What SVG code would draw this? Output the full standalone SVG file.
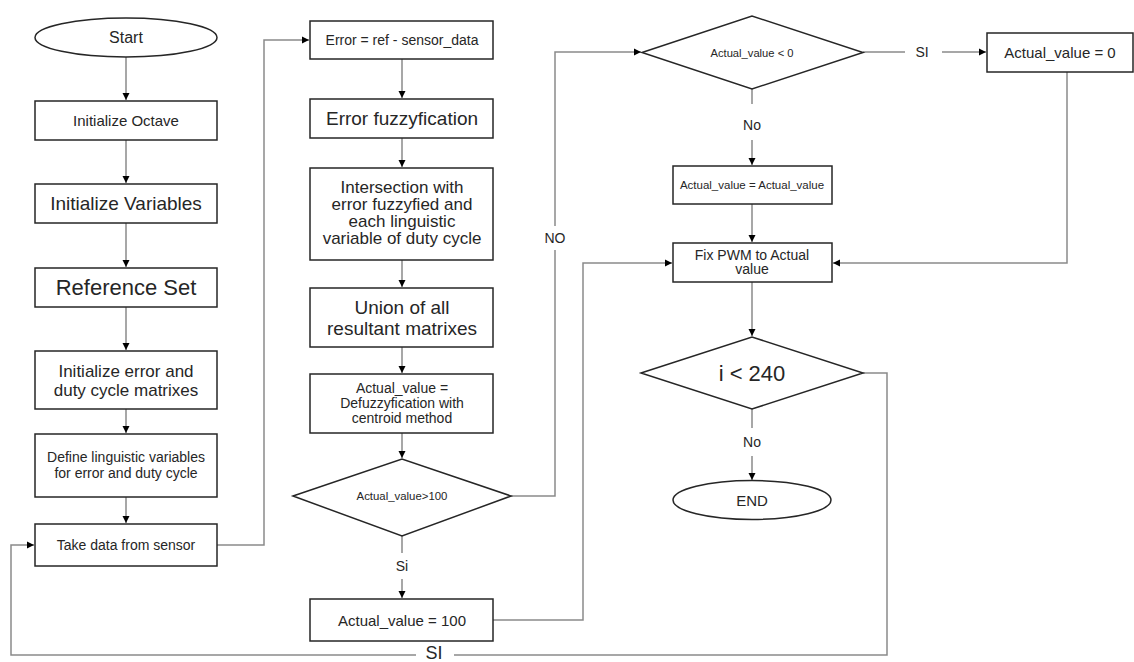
<svg xmlns="http://www.w3.org/2000/svg" width="1134" height="662" viewBox="0 0 1134 662">
<defs>
<marker id="ar" markerWidth="8" markerHeight="8" refX="7" refY="4" orient="auto" markerUnits="userSpaceOnUse">
<path d="M0,0.5 L7,4 L0,7.5 Z" fill="#000"/>
</marker>
<style>
.n{fill:#fff;stroke:#262626;stroke-width:1.5}
.c{fill:none;stroke:#8a8a8a;stroke-width:1.5}
.a{marker-end:url(#ar)}
text{font-family:"Liberation Sans",Arial,sans-serif;fill:#262626;text-anchor:middle}
</style>
</defs>
<rect width="1134" height="662" fill="#fff"/>
<g id="connectors">
<path class="c a" d="M126,57 V100"/>
<path class="c a" d="M126,140 V183"/>
<path class="c a" d="M126,223 V267"/>
<path class="c a" d="M126,307 V350"/>
<path class="c a" d="M126,409 V433"/>
<path class="c a" d="M126,497 V523"/>
<path class="c a" d="M217,545 H264 V40 H309"/>
<path class="c a" d="M402,59 V98"/>
<path class="c a" d="M402,138 V167"/>
<path class="c a" d="M402,260 V287"/>
<path class="c a" d="M402,347 V373"/>
<path class="c a" d="M402,433 V458"/>
<path class="c" d="M402,536 V553"/>
<path class="c a" d="M402,579 V598"/>
<path class="c a" d="M493,620 H583 V263 H672"/>
<path class="c" d="M511,496 H555 V250"/>
<path class="c a" d="M555,226 V52 H641"/>
<path class="c" d="M863,52 H905"/>
<path class="c a" d="M942,52 H986"/>
<path class="c a" d="M1067,72 V263 H833"/>
<path class="c" d="M752,89 V104"/>
<path class="c a" d="M752,140 V165"/>
<path class="c a" d="M752,204 V242"/>
<path class="c a" d="M752,282 V336"/>
<path class="c" d="M752,409 V428"/>
<path class="c a" d="M752,456 V480"/>
<path class="c" d="M863,373 H887 V655 H454"/>
<path class="c a" d="M416,655 H11 V545 H34"/>
<text x="402" y="571" font-size="14">Si</text>
<text x="555" y="243" font-size="14">NO</text>
<text x="922" y="57" font-size="14">SI</text>
<text x="752" y="130" font-size="14">No</text>
<text x="752" y="447" font-size="14">No</text>
<text x="434" y="659" font-size="18">SI</text>
</g>
<g id="start"><ellipse class="n" cx="126" cy="37.5" rx="91" ry="19.5"/><text x="126" y="43" font-size="16">Start</text></g>
<g id="init-octave"><rect class="n" x="35" y="101" width="182" height="39"/><text x="126" y="125.5" font-size="15">Initialize Octave</text></g>
<g id="init-variables"><rect class="n" x="35" y="184" width="182" height="39"/><text x="126" y="210" font-size="19">Initialize Variables</text></g>
<g id="reference-set"><rect class="n" x="35" y="268" width="182" height="39"/><text x="126" y="295" font-size="22">Reference Set</text></g>
<g id="init-matrixes"><rect class="n" x="35" y="351" width="182" height="58"/><text x="126" y="377" font-size="17">Initialize error and</text><text x="126" y="396" font-size="17">duty cycle matrixes</text></g>
<g id="define-linguistic"><rect class="n" x="35" y="434" width="182" height="63"/><text x="126" y="462" font-size="14">Define linguistic variables</text><text x="126" y="478" font-size="14">for error and duty cycle</text></g>
<g id="take-data"><rect class="n" x="35" y="524" width="182" height="42"/><text x="126" y="550" font-size="14">Take data from sensor</text></g>
<g id="error"><rect class="n" x="310" y="21" width="183" height="38"/><text x="402" y="45" font-size="14">Error = ref - sensor_data</text></g>
<g id="fuzzyfication"><rect class="n" x="310" y="99" width="183" height="39"/><text x="402" y="125" font-size="19">Error fuzzyfication</text></g>
<g id="intersection"><rect class="n" x="310" y="168" width="183" height="92"/><text x="402" y="193" font-size="17">Intersection with</text><text x="402" y="210" font-size="17">error fuzzyfied and</text><text x="402" y="227" font-size="17">each linguistic</text><text x="402" y="244" font-size="17">variable of duty cycle</text></g>
<g id="union"><rect class="n" x="310" y="288" width="183" height="59"/><text x="402" y="314" font-size="19">Union of all</text><text x="402" y="335" font-size="19">resultant matrixes</text></g>
<g id="defuzzyfication"><rect class="n" x="310" y="374" width="183" height="59"/><text x="402" y="393" font-size="14">Actual_value =</text><text x="402" y="408" font-size="14">Defuzzyfication with</text><text x="402" y="423" font-size="14">centroid method</text></g>
<g id="check-100"><path class="n" d="M293,496 L402,459 L511,496 L402,536 Z"/><text x="402" y="500" font-size="11.4">Actual_value&gt;100</text></g>
<g id="set-100"><rect class="n" x="310" y="599" width="183" height="42"/><text x="402" y="626" font-size="15">Actual_value = 100</text></g>
<g id="check-0"><path class="n" d="M642,52.5 L752,16 L863,52.5 L752,89 Z"/><text x="752" y="56.5" font-size="11.2">Actual_value &lt; 0</text></g>
<g id="set-0"><rect class="n" x="987" y="33" width="146" height="39"/><text x="1060" y="58" font-size="15">Actual_value = 0</text></g>
<g id="keep-value"><rect class="n" x="673" y="166" width="159" height="38"/><text x="752" y="189" font-size="11.5">Actual_value = Actual_value</text></g>
<g id="fix-pwm"><rect class="n" x="673" y="243" width="159" height="39"/><text x="752" y="260" font-size="14">Fix PWM to Actual</text><text x="752" y="274" font-size="14">value</text></g>
<g id="check-240"><path class="n" d="M641,373 L752,337 L863,373 L752,409 Z"/><text x="752" y="381" font-size="22">i &lt; 240</text></g>
<g id="end"><ellipse class="n" cx="752" cy="500" rx="79" ry="19.5"/><text x="752" y="505.5" font-size="15">END</text></g>
</svg>
